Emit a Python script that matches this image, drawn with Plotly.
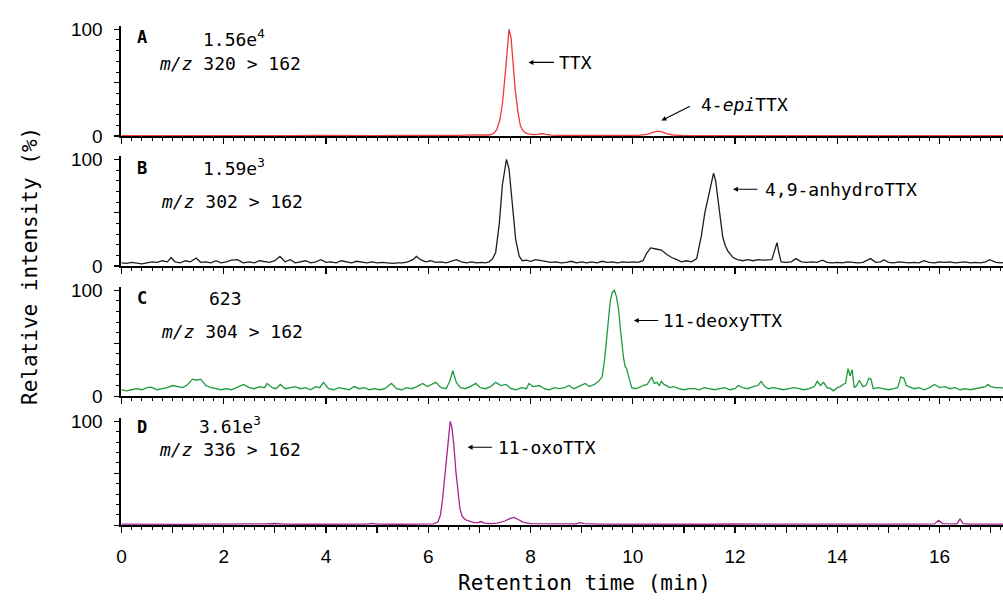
import plotly.graph_objects as go

# ---------------- data ----------------
# Panel A: m/z 320 > 162 (TTX)
A_t = [0.0, 0.3, 0.6, 1.0, 1.4, 1.8, 2.2, 2.6, 3.0, 3.4,
       3.8, 4.2, 4.6, 5.0, 5.4, 5.8, 6.2, 6.6, 6.9, 7.0,
       7.1, 7.2, 7.28, 7.34, 7.4, 7.45, 7.5, 7.55, 7.58, 7.62,
       7.66, 7.7, 7.75, 7.8, 7.85, 7.9, 7.96, 8.05, 8.14, 8.22,
       8.3, 8.4, 8.6, 9.0, 9.4, 9.8, 10.1, 10.28, 10.38, 10.47,
       10.56, 10.66, 10.78, 10.95, 11.3, 11.8, 12.3, 12.8, 13.3, 13.8,
       14.3, 14.8, 15.3, 15.8, 16.3, 16.8, 17.3]
A_v = [0.5, 0.6, 0.4, 0.6, 0.5, 0.4, 0.6, 0.5, 0.7, 0.5,
       0.6, 0.4, 0.6, 0.5, 0.7, 0.6, 0.5, 0.7, 1.2, 1.0,
       0.8, 1.0, 2.5, 6, 15, 30, 55, 85, 100, 92,
       68, 44, 24, 10, 5, 3, 2, 1.3, 1.6, 2.4,
       1.5, 0.9, 0.7, 0.6, 0.5, 0.6, 0.7, 1.5, 3.2, 4.6,
       4.2, 2.3, 1.0, 0.6, 0.5, 0.6, 0.5, 0.4, 0.6, 0.5,
       0.4, 0.5, 0.6, 0.5, 0.4, 0.5, 0.5]

# Panel B: m/z 302 > 162 (4,9-anhydroTTX)
B_t = [0.0, 0.1, 0.2, 0.3, 0.4, 0.5, 0.6, 0.7, 0.8, 0.9,
       0.97, 1.05, 1.15, 1.25, 1.35, 1.46, 1.55, 1.65, 1.75, 1.85,
       1.95, 2.05, 2.15, 2.27, 2.38, 2.5, 2.6, 2.7, 2.8, 2.9,
       3.0, 3.1, 3.2, 3.3, 3.4, 3.5, 3.6, 3.7, 3.8, 3.9,
       4.0, 4.1, 4.2, 4.3, 4.4, 4.5, 4.6, 4.7, 4.8, 4.9,
       5.0, 5.1, 5.2, 5.3, 5.4, 5.5, 5.6, 5.7, 5.77, 5.85,
       5.95, 6.05, 6.15, 6.25, 6.35, 6.45, 6.55, 6.65, 6.75, 6.85,
       6.95, 7.05, 7.12, 7.19, 7.26, 7.32, 7.39, 7.45, 7.53, 7.58,
       7.65, 7.71, 7.78, 7.84, 7.92, 8.0, 8.1, 8.2, 8.3, 8.4,
       8.5, 8.6, 8.7, 8.8, 8.9, 9.0, 9.1, 9.2, 9.3, 9.4,
       9.5, 9.6, 9.7, 9.8, 9.9, 10.0, 10.1, 10.2, 10.27, 10.35,
       10.45, 10.56, 10.66, 10.76, 10.86, 10.95, 11.05, 11.15, 11.25, 11.34,
       11.41, 11.47, 11.53, 11.58, 11.62, 11.67, 11.72, 11.76, 11.81, 11.86,
       11.96, 12.05, 12.15, 12.25, 12.35, 12.45, 12.55, 12.65, 12.72, 12.77,
       12.82, 12.86, 12.9, 13.0, 13.1, 13.19, 13.3, 13.4, 13.5, 13.6,
       13.71, 13.8, 13.9, 14.0, 14.1, 14.2, 14.3, 14.4, 14.5, 14.65,
       14.75, 14.85, 14.91, 15.0, 15.1, 15.2, 15.3, 15.4, 15.5, 15.6,
       15.69, 15.8, 15.9, 16.0, 16.1, 16.2, 16.3, 16.4, 16.5, 16.6,
       16.7, 16.8, 16.9, 16.98, 17.1, 17.2, 17.3]
B_v = [3, 2.5, 3.5, 3, 2, 3, 4, 3.5, 5, 4,
       8, 4, 3, 5, 4, 7.5, 3.5, 4, 3, 5,
       3, 4, 5.5, 6, 3, 4, 3, 5, 4, 3.5,
       5, 9, 4, 6, 3, 4, 5, 3, 4, 6,
       3.5, 4, 3, 5, 4, 3, 4.5, 3.5, 3, 4,
       3, 3.5, 3, 2.5, 3, 3, 4, 6, 9, 6,
       4, 5, 3.5, 4, 3, 4.5, 6, 4, 3, 4,
       3, 3.5, 3, 4, 7, 13, 40, 76, 100, 91,
       55, 25, 9, 5, 5.5, 4.5, 6, 5, 4, 3.5,
       4, 3, 3.5, 4.5, 3, 4, 3, 4, 3, 4.5,
       3.5, 4, 3, 4, 3.5, 4, 3.5, 5, 12, 17,
       16, 15, 11, 8, 6, 4, 5, 4, 7, 28,
       50, 64, 78, 87, 80, 61, 40, 27, 19, 14,
       8, 6, 5, 6, 5, 6, 5.5, 6, 6, 14,
       22, 12, 4, 3.5, 4, 7, 4, 3.5, 4, 3.5,
       5.5, 3.5, 3, 3.5, 3, 4, 3.5, 3, 3.5, 7,
       3.5, 4, 6, 3.5, 3, 4, 3.5, 3, 3.5, 3,
       5, 3.5, 3, 4, 3.5, 4, 3, 3.5, 4, 3,
       3.5, 3, 4, 6, 3.5, 3, 3.5]

# Panel C: m/z 304 > 162 (11-deoxyTTX)
C_t = [0.0, 0.1, 0.2, 0.3, 0.4, 0.5, 0.58, 0.7, 0.8, 0.9,
       1.0, 1.1, 1.2, 1.3, 1.39, 1.47, 1.55, 1.65, 1.75, 1.85,
       1.95, 2.05, 2.15, 2.25, 2.39, 2.5, 2.6, 2.7, 2.8, 2.85,
       2.95, 3.02, 3.11, 3.2, 3.3, 3.4, 3.5, 3.6, 3.7, 3.8,
       3.88, 3.95, 4.05, 4.15, 4.25, 4.35, 4.45, 4.55, 4.65, 4.75,
       4.85, 4.95, 5.05, 5.15, 5.28, 5.38, 5.48, 5.58, 5.68, 5.78,
       5.89, 5.98, 6.07, 6.15, 6.25, 6.35, 6.42, 6.48, 6.55, 6.63,
       6.72, 6.82, 6.93, 7.02, 7.12, 7.22, 7.32, 7.42, 7.52, 7.62,
       7.72, 7.82, 7.92, 7.97, 8.05, 8.17, 8.27, 8.37, 8.47, 8.57,
       8.67, 8.75, 8.85, 8.95, 9.07, 9.15, 9.25, 9.33, 9.40, 9.45,
       9.49, 9.52, 9.56, 9.60, 9.64, 9.68, 9.72, 9.76, 9.79, 9.82,
       9.85, 9.88, 9.90, 9.94, 9.98, 10.05, 10.12, 10.2, 10.28, 10.37,
       10.42, 10.47, 10.52, 10.56, 10.61, 10.66, 10.72, 10.8, 10.9, 11.0,
       11.1, 11.21, 11.3, 11.4, 11.5, 11.6, 11.7, 11.8, 11.9, 12.0,
       12.06, 12.15, 12.25, 12.35, 12.45, 12.51, 12.58, 12.65, 12.75, 12.85,
       12.95, 13.05, 13.15, 13.25, 13.35, 13.45, 13.55, 13.61, 13.67, 13.73,
       13.8, 13.87, 13.92, 14.0, 14.06, 14.11, 14.16, 14.21, 14.25, 14.29,
       14.33, 14.38, 14.43, 14.5, 14.56, 14.62, 14.66, 14.7, 14.8, 14.9,
       15.0, 15.1, 15.18, 15.24, 15.3, 15.35, 15.4, 15.5, 15.6, 15.7,
       15.8, 15.9, 16.0, 16.1, 16.2, 16.3, 16.4, 16.5, 16.6, 16.7,
       16.8, 16.9, 16.94, 17.0, 17.1, 17.2, 17.3]
C_v = [6, 5, 6, 7, 6, 8, 8.5, 6, 7, 8,
       10, 9, 8, 11, 16, 15, 16, 10, 8, 7,
       6, 7, 6, 8, 11, 8, 7, 9, 8, 12,
       8, 7, 11, 7, 8, 9, 7, 8, 6, 9,
       8, 13, 7, 6, 8, 7, 6, 9, 7, 8,
       6, 7, 6, 7, 12, 7, 6, 8, 7, 9,
       12, 9, 11, 13, 8, 7, 14, 24, 13, 8,
       7, 9, 12, 8, 7, 9, 13, 10, 11, 7,
       6, 8, 7, 12, 9, 10, 7, 6, 8, 7,
       8, 10, 7, 9, 12, 9, 11, 14, 18, 35,
       53, 72, 90, 98, 100, 94, 83, 62, 46, 36,
       28, 26, 22, 14, 8, 7, 8, 10, 11, 18,
       12, 13, 10, 14, 11, 10, 8, 9, 7, 6,
       7, 7, 6, 8, 7, 6, 7, 8, 6, 7,
       10, 8, 7, 9, 10, 14, 9, 7, 8, 7,
       6, 7, 8, 7, 6, 7, 9, 14, 10, 13,
       8, 7, 5, 8, 9, 11, 12, 26, 19, 25,
       8, 10, 15, 9, 10, 17, 16, 7, 8, 7,
       6, 7, 8, 18, 17, 10, 9, 7, 8, 6,
       8, 11, 8, 9, 7, 8, 6, 7, 6, 7,
       8, 9, 11, 9, 8, 8, 7]

# Panel D: m/z 336 > 162 (11-oxoTTX)
D_t = [0.0, 0.4, 0.8, 1.2, 1.6, 2.0, 2.4, 2.8, 3.0, 3.2,
       3.6, 4.0, 4.4, 4.8, 4.9, 5.0, 5.4, 5.8, 6.1, 6.19,
       6.24, 6.28, 6.32, 6.36, 6.40, 6.43, 6.46, 6.50, 6.54, 6.58,
       6.62, 6.66, 6.71, 6.76, 6.82, 6.9, 6.97, 7.03, 7.1, 7.2,
       7.35, 7.5, 7.6, 7.68, 7.76, 7.85, 8.0, 8.3, 8.6, 8.9,
       8.97, 9.05, 9.4, 9.8, 10.2, 10.6, 11.0, 11.5, 12.0, 12.5,
       13.0, 13.5, 14.0, 14.5, 15.0, 15.5, 15.9, 15.98, 16.06, 16.2,
       16.34, 16.40, 16.46, 16.6, 17.0, 17.3]
D_v = [1, 0.8, 1, 0.8, 1, 0.9, 1, 1.2, 1.6, 1,
       0.9, 1, 1.2, 1, 1.8, 1, 0.9, 1, 1.2, 3,
       10, 25, 45, 68, 90, 100, 95, 78, 52, 30,
       16, 9, 6, 4.5, 3.5, 2.5, 2.5, 3.5, 2, 1.5,
       2, 4, 6.5, 7.5, 5.5, 3, 1.5, 1.2, 1, 1.3,
       2.5, 1.5, 1, 0.9, 1, 1.2, 1, 0.9, 1.1, 1,
       1, 0.9, 1, 1.2, 1, 1, 1.2, 4.7, 1.5, 1,
       1.2, 6, 1.5, 1, 1, 1]

panel_letters = ["A", "B", "C", "D"]
panel_counts = ["1.56e<sup>4</sup>", "1.59e<sup>3</sup>", "623", "3.61e<sup>3</sup>"]
panel_mz = ["<i>m/z</i> 320 > 162", "<i>m/z</i> 302 > 162",
            "<i>m/z</i> 304 > 162", "<i>m/z</i> 336 > 162"]
colors = ["#f0383c", "#1e1e1e", "#1f9a40", "#a3258f"]
x_ticks = list(range(0, 18))
x_tick_text = [str(v) if v % 2 == 0 else "" for v in x_ticks]

series = [(A_t, A_v), (B_t, B_v), (C_t, C_v), (D_t, D_v)]
for t, v in series:
    assert len(t) == len(v), (len(t), len(v))

# ---------------- layout helpers ----------------
W, H = 1003, 607
def px(x):
    return x / W
def py(y):
    return 1 - y / H

# (top, bottom) pixel rows of each panel's plotting band
bands = [(19.7, 133), (153.7, 267), (288.7, 401), (423.8, 534)]

MONO = "DejaVu Sans Mono"
SANS = "Liberation Sans"

fig = go.Figure()
layout = dict(width=W, height=H, margin=dict(l=0, r=0, t=0, b=0),
              paper_bgcolor="white", plot_bgcolor="white", showlegend=False)

for i, ((t, v), col) in enumerate(zip(series, colors)):
    k = "" if i == 0 else str(i + 1)
    fig.add_trace(go.Scatter(x=t, y=v, mode="lines",
                             line=dict(color=col, width=1.3),
                             xaxis="x" + k, yaxis="y" + k, hoverinfo="skip"))
    last = (i == 3)
    layout["xaxis" + k] = dict(
        domain=[px(117), 1], anchor="y" + k, range=[0, 17.24],
        showline=True, linecolor="black", linewidth=2,
        ticks="outside", tickvals=x_ticks, ticktext=x_tick_text,
        ticklen=6, tickwidth=1.2, tickcolor="black",
        minor=dict(dtick=0.2, tick0=0, ticklen=3, tickwidth=1, tickcolor="black", ticks="outside"),
        showticklabels=last, showgrid=False, zeroline=False,
        tickfont=dict(family=SANS, size=19, color="black"),
        ticklabelstandoff=7, fixedrange=True)
    top, bot = bands[i]
    layout["yaxis" + k] = dict(
        domain=[py(bot), py(top)], anchor="x" + k, range=[0, 103],
        showline=True, linecolor="black", linewidth=2,
        ticks="outside", tickvals=[0, 50, 100],
        ticktext=(["", "", "100"] if last else ["0", "", "100"]),
        ticklen=5, tickwidth=1.2, tickcolor="black",
        minor=dict(dtick=10, tick0=0, ticklen=3, tickwidth=1, tickcolor="black", ticks="outside"),
        showgrid=False, zeroline=False,
        tickfont=dict(family=SANS, size=19, color="black"),
        ticklabelstandoff=8, fixedrange=True)

fig.update_layout(**layout)

ann = []
# panel headers
letter_pos = [31, 166, 300, 433]
count_pos = [(197, 32), (197, 165), (203, 300), (193, 431)]
mz_pos = [(153, 58), (155, 200), (155, 334), (153, 456)]
for i in range(4):
    ann.append(dict(x=px(131), y=py(letter_pos[i]), xref="paper", yref="paper",
                    text="<b>" + panel_letters[i] + "</b>", showarrow=False,
                    xanchor="left", yanchor="middle",
                    font=dict(family=MONO, size=17, color="black")))
    ann.append(dict(x=px(count_pos[i][0]), y=py(count_pos[i][1]), xref="paper", yref="paper",
                    text=panel_counts[i], showarrow=False, xanchor="left", yanchor="middle",
                    font=dict(family=MONO, size=18, color="black")))
    ann.append(dict(x=px(mz_pos[i][0]), y=py(mz_pos[i][1]), xref="paper", yref="paper",
                    text=panel_mz[i], showarrow=False, xanchor="left", yanchor="middle",
                    font=dict(family=MONO, size=18, color="black")))

# peak labels with arrows: (axis suffix, head x, head y, tail dx, tail dy, text x, text y, text)
peak_labels = [
    ("", 7.96, 69, 27, 0, 8.52, 69, "TTX"),
    ("", 10.56, 14.5, 30, -15, 11.30, 30, "4-<i>epi</i>TTX"),
    ("2", 11.96, 72, 26, 0, 12.55, 72, "4,9-anhydroTTX"),
    ("3", 10.02, 71.5, 26, 0, 10.56, 71.5, "11-deoxyTTX"),
    ("4", 6.77, 75, 26, 0, 7.32, 75, "11-oxoTTX"),
]
for k, hx, hy, dx, dy, tx, ty, txt in peak_labels:
    ann.append(dict(x=hx, y=hy, xref="x" + k, yref="y" + k, ax=dx, ay=dy,
                    axref="pixel", ayref="pixel", text="", showarrow=True,
                    arrowhead=2, arrowsize=0.9, arrowwidth=1.1, arrowcolor="black",
                    standoff=0, startstandoff=0))
    ann.append(dict(x=tx, y=ty, xref="x" + k, yref="y" + k, text=txt, showarrow=False,
                    xanchor="left", yanchor="middle",
                    font=dict(family=MONO, size=18, color="black")))

# axis titles
ann.append(dict(x=px(582), y=py(594), xref="paper", yref="paper",
                text="Retention time (min)", showarrow=False,
                xanchor="center", yanchor="middle",
                font=dict(family=MONO, size=21, color="black")))
ann.append(dict(x=px(25), y=py(267), xref="paper", yref="paper",
                text="Relative intensity (%)", showarrow=False, textangle=-90,
                xanchor="center", yanchor="middle",
                font=dict(family=MONO, size=21, color="black")))

fig.update_layout(annotations=ann)
fig.write_html("out.html",
               config={"displayModeBar": False, "staticPlot": True},
               post_script="document.body.style.margin='0px';"
                           "document.body.style.overflow='hidden';")
